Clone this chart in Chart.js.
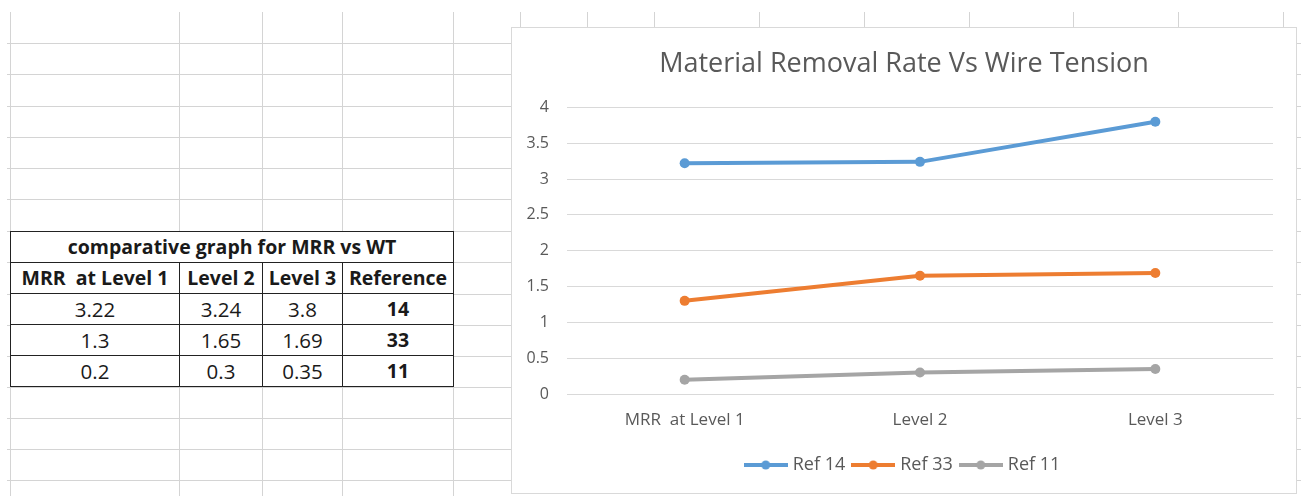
<!DOCTYPE html>
<html>
<head>
<meta charset="utf-8">
<script src="https://cdn.jsdelivr.net/npm/chart.js@4"></script>
<style>
  html, body { margin: 0; padding: 0; background: #fff; }
  body { width: 1301px; height: 496px; position: relative; overflow: hidden; font-family: "Open Sans", Lato, sans-serif; }
  .hl { position: absolute; height: 1px; background: #d4d4d4; }
  .vl { position: absolute; width: 1px; background: #d4d4d4; }
  #tbl { position: absolute; left: 10px; top: 231px; border-collapse: collapse; background: #fff; table-layout: fixed; }
  #tbl td { border: 1px solid #222; height: 30px; line-height: 30px; padding: 0; text-align: center; font-size: 20.5px; color: #1a1a1a; white-space: nowrap; overflow: hidden; }
  #tbl tr:first-child td, #tbl tr:nth-child(2) td, #tbl td.ref { font-weight: bold; font-size: 19.5px; }
  #box { position: absolute; left: 511px; top: 27px; width: 784px; height: 465px; border: 1px solid #d9d9d9; background: #fff; }
  #box canvas { display: block; }
</style>
</head>
<body>
<table id="tbl"></table>
<div id="box"><canvas id="mrrChart" width="784" height="465"></canvas></div>
<script>
// values as read from the sheet
const categories = ['MRR  at Level 1', 'Level 2', 'Level 3'];
const references = [14, 33, 11];
const ref14 = [3.22, 3.24, 3.8];
const ref33 = [1.3, 1.65, 1.69];
const ref11 = [0.2, 0.3, 0.35];
const seriesColors = ['#5b9bd5', '#ed7d31', '#a5a5a5'];

// spreadsheet grid behind everything
const rowLines = [43, 74, 106, 137, 168, 199, 231, 262, 294, 325, 356, 387, 418, 449, 480];
const colLines = [10, 179, 262, 342, 453];
const topCols = [520, 587, 654, 759, 864, 969, 1073, 1178, 1283];

function addLine(cls, x, y, w, h) {
    const d = document.createElement('div');
    d.className = cls;
    d.style.left = x + 'px';
    d.style.top = y + 'px';
    if (w) d.style.width = w + 'px';
    if (h) d.style.height = h + 'px';
    document.body.insertBefore(d, document.body.firstChild);
}
rowLines.forEach(y => { addLine('hl', 7, y, 504, 0); addLine('hl', 1297, y, 4, 0); });
colLines.forEach(x => addLine('vl', x, 12, 0, 484));
topCols.forEach(x => addLine('vl', x, 12, 0, 16));

// the small table
const tbl = document.getElementById('tbl');
const colW = [168, 82, 79, 110];
let html = '<tr><td colspan="4">comparative graph for MRR vs WT</td></tr><tr>';
categories.concat(['Reference']).forEach((c, i) => {
    html += '<td style="width:' + colW[i] + 'px">' + c.replace('  ', '&nbsp; ') + '</td>';
});
html += '</tr>';
[ref14, ref33, ref11].forEach((row, r) => {
    html += '<tr>' + row.map(v => '<td>' + v + '</td>').join('') + '<td class="ref">' + references[r] + '</td></tr>';
});
tbl.innerHTML = html;

// legend marker: short line with a dot, Excel style
function legendMark(color) {
    const c = document.createElement('canvas');
    c.width = 44; c.height = 12;
    const g = c.getContext('2d');
    g.strokeStyle = color; g.lineWidth = 4;
    g.beginPath(); g.moveTo(0, 6); g.lineTo(44, 6); g.stroke();
    g.fillStyle = color;
    g.beginPath(); g.arc(22, 6, 4.5, 0, Math.PI * 2); g.fill();
    return c;
}

const datasets = [ref14, ref33, ref11].map((vals, i) => ({
    label: 'Ref ' + references[i],
    data: vals,
    borderColor: seriesColors[i],
    backgroundColor: seriesColors[i],
    borderWidth: 4,
    pointRadius: 5,
    pointBorderWidth: 0,
    tension: 0
}));

const labelFont = { family: 'Open Sans', size: 17 };

const ctx = document.getElementById('mrrChart').getContext('2d');
const chart = new Chart(ctx, {
    type: 'line',
    data: { labels: categories, datasets: datasets },
    options: {
        responsive: false,
        animation: false,
        layout: { padding: { left: 0, right: 0, top: 0, bottom: 9 } },
        plugins: {
            title: {
                display: true,
                text: 'Material Removal Rate Vs Wire Tension',
                color: '#595959',
                font: { family: 'Open Sans', size: 27, weight: 'normal' },
                padding: { top: 20, bottom: 27 }
            },
            legend: {
                position: 'bottom',
                labels: {
                    color: '#595959',
                    font: { family: 'Open Sans', size: 18 },
                    usePointStyle: true,
                    pointStyleWidth: 36,
                    padding: 10,
                    generateLabels: function (ch) {
                        return ch.data.datasets.map((ds, i) => ({
                            text: ds.label,
                            pointStyle: legendMark(ds.borderColor),
                            fontColor: '#595959',
                            datasetIndex: i,
                            lineWidth: 0
                        }));
                    }
                }
            },
            tooltip: { enabled: false }
        },
        scales: {
            x: {
                offset: true,
                grid: { display: false },
                border: { display: true, color: '#d9d9d9' },
                ticks: { color: '#595959', font: labelFont, padding: 8 },
                afterFit: function (s) { s.height = 52; }
            },
            y: {
                min: 0,
                max: 4,
                ticks: {
                    stepSize: 0.5,
                    color: '#595959',
                    font: { family: 'Open Sans', size: 16 },
                    padding: 18,
                    callback: function (v) { return String(v); }
                },
                grid: { color: '#d9d9d9', drawTicks: false },
                border: { display: false },
                afterFit: function (s) { s.width = 55; }
            },
            // empty right margin so title and legend centre on the whole box
            gap: {
                type: 'linear',
                position: 'right',
                grid: { display: false },
                border: { display: false },
                ticks: { display: false },
                afterFit: function (s) { s.width = 23; }
            }
        }
    }
});
</script>
</body>
</html>
